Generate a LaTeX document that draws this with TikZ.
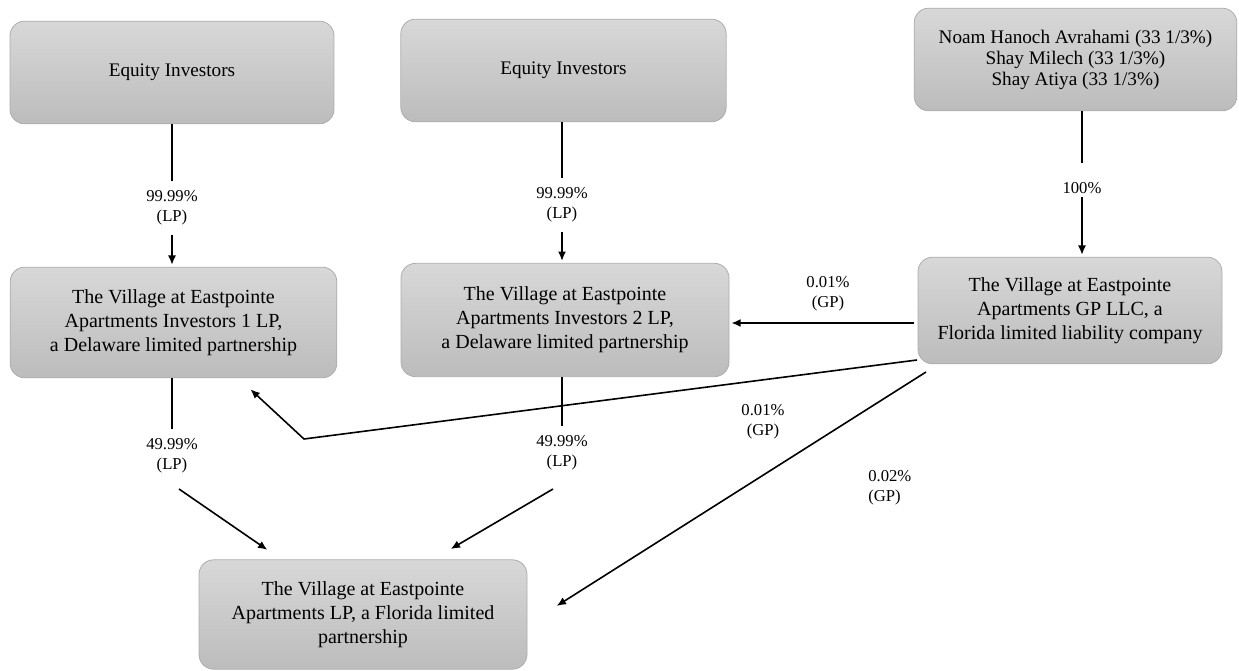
\documentclass[tikz,border=0pt]{standalone}
\usepackage{fontspec}
\setmainfont{Liberation Serif}
\definecolor{boxtop}{RGB}{216,216,216}
\definecolor{boxbot}{RGB}{188,188,188}
\definecolor{boxline}{RGB}{172,172,172}
\usetikzlibrary{arrows.meta,positioning,calc}

\begin{document}
\begin{tikzpicture}[x=0.75pt,y=-0.75pt,
    entity/.style={draw=boxline, line width=0.6pt, rounded corners=11pt, top color=boxtop, bottom color=boxbot, align=center, inner sep=0pt, font=\fontsize{15}{18}\selectfont},
    pct/.style={align=center, inner sep=7pt, font=\fontsize{12.5}{15}\selectfont},
    link/.style={line width=1.2pt},
    arr/.style={line width=1.2pt, -{Latex[length=7pt,width=6pt]}, shorten >=1.5pt}]
    \useasboundingbox (0,0) rectangle (1239,671);
    % boxes
    \node[entity, minimum width=243pt, minimum height=77pt, font=\fontsize{14.4}{17}\selectfont] (eqA) at (172,72.5) {Equity Investors};
    \node[entity, minimum width=244pt, minimum height=77pt, font=\fontsize{14.4}{17}\selectfont] (eqB) at (563.5,70.5) {Equity Investors};
    \node[entity, minimum width=242pt, minimum height=77pt, font=\fontsize{14.4}{15.8}\selectfont] (owners) at (1075.5,59.5) {Noam Hanoch Avrahami (33 1/3\%)\\Shay Milech (33 1/3\%)\\Shay Atiya (33 1/3\%)};
    \node[entity, minimum width=245pt, minimum height=83pt] (inv1) at (173.5,322.5) {The Village at Eastpointe\\Apartments Investors 1 LP,\\a Delaware limited partnership};
    \node[entity, minimum width=246pt, minimum height=85pt] (inv2) at (565,320) {The Village at Eastpointe\\Apartments Investors 2 LP,\\a Delaware limited partnership};
    \node[entity, minimum width=228pt, minimum height=80pt] (gp) at (1070,310.5) {The Village at Eastpointe\\Apartments GP LLC, a\\Florida limited liability company};
    \node[entity, minimum width=246pt, minimum height=82pt] (prop) at (363,614.5) {The Village at Eastpointe\\Apartments LP, a Florida limited\\partnership};
    % percentages
    \node[pct] (lA) at (172,208) {99.99\%\\(LP)};
    \node[pct] (lB) at (562,205) {99.99\%\\(LP)};
    \node[pct, inner sep=0pt] (lC) at (1082,188) {100\%};
    \node[pct] (lGE) at (828,294) {0.01\%\\(GP)};
    \node[pct] (lGD) at (763,422) {0.01\%\\(GP)};
    \node[pct, align=left, anchor=west, inner sep=0pt] (lGP) at (868,488) {0.02\%\\(GP)};
    \node[pct] (lD) at (172,456) {49.99\%\\(LP)};
    \node[pct] (lE) at (562,453) {49.99\%\\(LP)};
    % free ends
    \coordinate (gpW) at (914,323);
    \coordinate (gpSW) at (917,360);
    \coordinate (kink) at (304,439);
    \coordinate (inv1In) at (249,388);
    \coordinate (gpS) at (926,372);
    \coordinate (propE) at (555,607);
    \coordinate (dOut) at (179,489);
    \coordinate (propL) at (269,551);
    \coordinate (eOut) at (553,489);
    \coordinate (propM) at (449,550);
    % connectors
    \draw[link] (lA |- eqA.south) -- (lA);
    \draw[arr] (lA) -- (lA |- inv1.north);
    \draw[link] (lB |- eqB.south) -- (lB);
    \draw[arr] (lB) -- (lB |- inv2.north);
    \draw[link] (lC |- owners.south) -- ($(lC)+(0,-25)$);
    \draw[arr] ($(lC)+(0,9)$) -- (lC |- gp.north);
    \draw[arr] (gpW) -- (gpW -| inv2.east);
    \draw[arr] (gpSW) -- (kink) -- (inv1In);
    \draw[arr] (gpS) -- (propE);
    \draw[link] (lD |- inv1.south) -- (lD);
    \draw[arr] (dOut) -- (propL);
    \draw[link] (lE |- inv2.south) -- (lE);
    \draw[arr] (eOut) -- (propM);
\end{tikzpicture}
\end{document}
